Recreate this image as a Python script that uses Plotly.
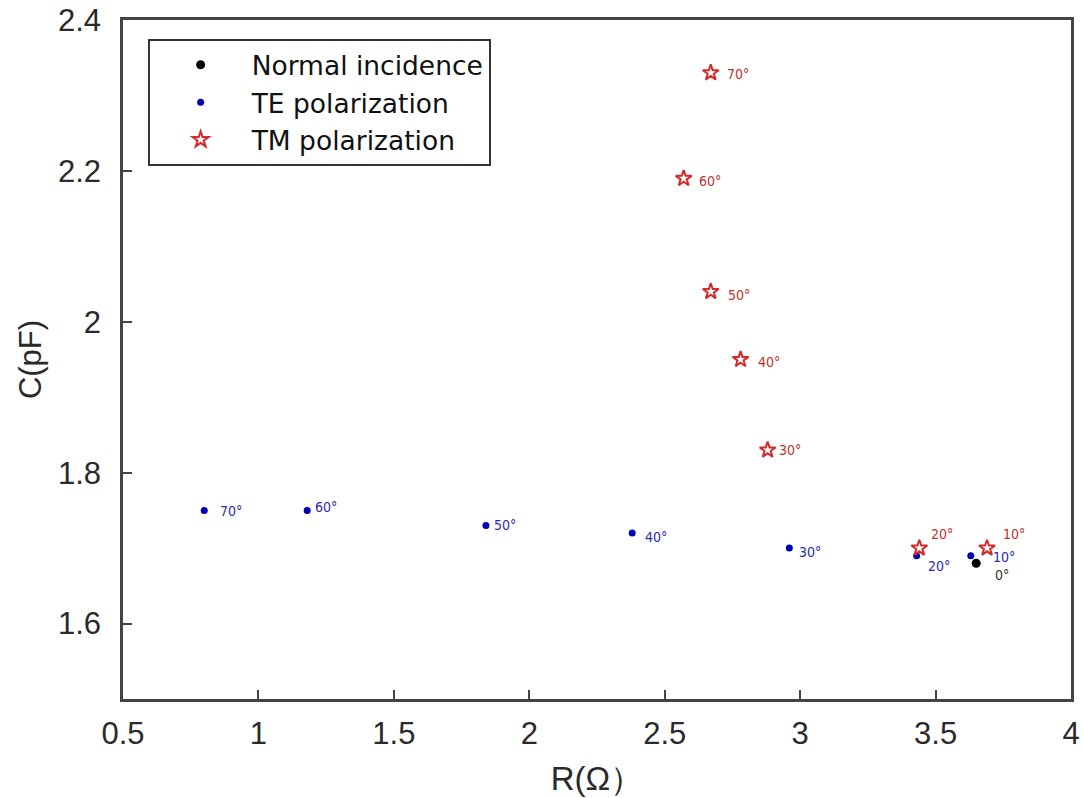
import plotly.graph_objects as go

# Data
normal_R = [3.65]
normal_C = [1.68]
normal_labels = ["0°"]

te_R = [0.80, 1.18, 1.84, 2.38, 2.96, 3.43, 3.63]
te_C = [1.75, 1.75, 1.73, 1.72, 1.70, 1.69, 1.69]
te_labels = ["70°", "60°", "50°", "40°", "30°", "20°", "10°"]

tm_R = [2.67, 2.57, 2.67, 2.78, 2.88, 3.44, 3.69]
tm_C = [2.33, 2.19, 2.04, 1.95, 1.83, 1.70, 1.70]
tm_labels = ["70°", "60°", "50°", "40°", "30°", "20°", "10°"]

x_ticks = [0.5, 1, 1.5, 2, 2.5, 3, 3.5, 4]
y_ticks = [1.6, 1.8, 2.0, 2.2, 2.4]
y_ticktext = ["1.6", "1.8", "2", "2.2", "2.4"]

# label pixel offsets (style)
te_off = [(14, -1), (6, 3), (6, 0), (11, -4), (8, -4), (9, -10), (20, -1)]
tm_off = [(14, -1), (13, -3), (15, -3), (15, -2), (9, 0), (10, 14), (14, 14)]
normal_off = [(17, -12)]

fig = go.Figure()
fig.add_trace(go.Scatter(x=normal_R, y=normal_C, mode="markers", name="Normal incidence",
                         legendgroup="a",
                         marker=dict(color="black", size=9, symbol="circle")))
fig.add_trace(go.Scatter(x=te_R, y=te_C, mode="markers", name="TE polarization",
                         legendgroup="b",
                         marker=dict(color="#0000b4", size=7, symbol="circle")))
fig.add_trace(go.Scatter(x=tm_R, y=tm_C, mode="markers", name="TM polarization",
                         legendgroup="c",
                         marker=dict(color="#d42a2a", size=12, symbol="star-open",
                                     line=dict(width=2, color="#d42a2a"))))

annots = []
for xs, ys, labs, offs, col in [
    (te_R, te_C, te_labels, te_off, "#2b2bb0"),
    (tm_R, tm_C, tm_labels, tm_off, "#c0302f"),
    (normal_R, normal_C, normal_labels, normal_off, "#333333"),
]:
    for x, y, t, (dx, dy) in zip(xs, ys, labs, offs):
        annots.append(dict(x=x, y=y, xref="x", yref="y", text=t, showarrow=False,
                           xanchor="left", yanchor="middle", xshift=dx, yshift=dy,
                           font=dict(size=14, color=col, family="DejaVu Sans Condensed, Liberation Sans Narrow, Arial")))

fig.update_layout(
    width=1083, height=798,
    margin=dict(l=123, r=12, t=20, b=99, autoexpand=False),
    paper_bgcolor="white", plot_bgcolor="white",
    font=dict(family="Liberation Sans, Arial", color="#222222"),
    annotations=annots,
    showlegend=True,
    legend=dict(x=0.026, y=0.972, xanchor="left", yanchor="top",
                bordercolor="#333333", borderwidth=2, bgcolor="white",
                font=dict(size=26.5, color="#111111", family="DejaVu Sans"), itemwidth=92,
                tracegroupgap=0),
    xaxis=dict(range=[0.5, 4], tickvals=x_ticks, ticktext=[str(v) for v in x_ticks],
               ticks="inside", ticklen=9, tickwidth=1.5, tickcolor="#444444",
               showline=True, linecolor="#444444", linewidth=2.5, mirror=True,
               showgrid=False, zeroline=False, ticklabelstandoff=5,
               tickfont=dict(size=31, color="#2a2a2a"),
               title=dict(text="R(Ω）", font=dict(size=33, color="#2a2a2a"), standoff=17)),
    yaxis=dict(range=[1.5, 2.4], tickvals=y_ticks, ticktext=y_ticktext,
               ticks="inside", ticklen=9, tickwidth=1.5, tickcolor="#444444",
               showline=True, linecolor="#444444", linewidth=2.5, mirror=True,
               showgrid=False, zeroline=False, ticklabelstandoff=13,
               tickfont=dict(size=31, color="#2a2a2a"),
               title=dict(text="C(pF)", font=dict(size=31, color="#2a2a2a"), standoff=8)),
)

fig.write_html("out.html")
